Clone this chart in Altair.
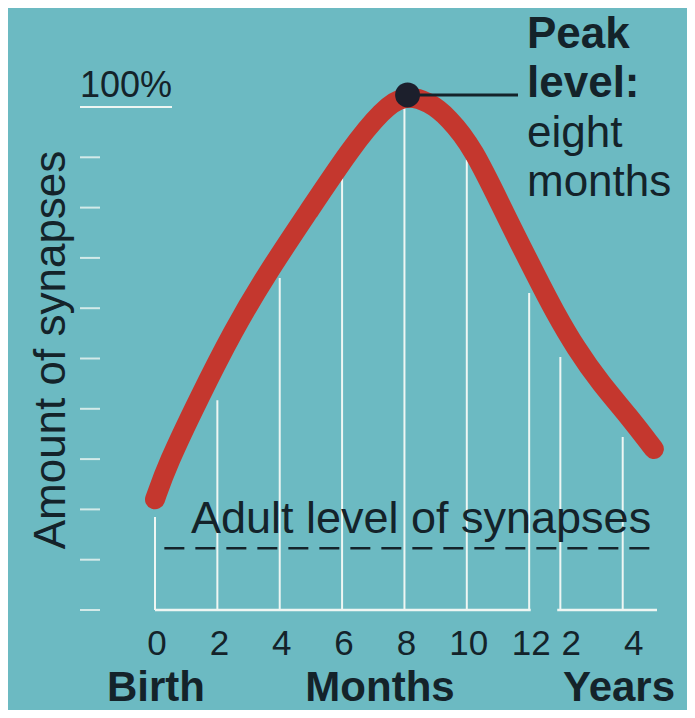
import altair as alt
import pandas as pd

# ---------------- data ----------------
# x position scale: months 0..12, then 13 = "2" years, 15 = "4" years
curve_x = [0.0, 0.4, 1.4, 2.5, 3.6, 4.9, 6.3, 7.3, 8.0, 8.8, 9.4, 10.2, 11.2, 12.3, 12.8, 13.5, 14.3, 15.2, 16.0]
curve_y = [22.0, 29.0, 42.0, 55.5, 67.0, 79.0, 92.0, 99.5, 102.5, 101.0, 98.0, 92.0, 79.0, 65.5, 59.5, 52.0, 45.0, 38.5, 32.0]

tick_pos = [0, 2, 4, 6, 8, 10, 12, 13, 15]
tick_labels = ["0", "2", "4", "6", "8", "10", "12", "2", "4"]
tick_unit = ["month", "month", "month", "month", "month", "month", "month", "year", "year"]
grid_top = [18.5, 41.7, 66.0, 86.0, 101.0, 89.5, 63.0, 50.3, 34.4]

y_ticks = [0, 10, 20, 30, 40, 50, 60, 70, 80, 90, 100]

peak_x = [8.1]
peak_y = [102.4]

adult_level = [12.3]
adult_from = [0.3]
adult_to = [16.0]

base_from = [0.0, 12.9]
base_to = [12.05, 16.1]

texts = {
    "peak1": "Peak",
    "peak2": "level:",
    "peak3": "eight",
    "peak4": "months",
    "top": "100%",
    "ytitle": "Amount of synapses",
    "adult": "Adult level of synapses",
    "birth": "Birth",
    "months": "Months",
    "years": "Years",
}

# ---------------- styles ----------------
BG = "#6cbac2"
WHITE = "#eef6f3"
DARK = "#14232a"
RED = "#c4372e"
DOT = "#1c1f2c"
FONT = "Liberation Sans"

W, H = 502, 503
xs = alt.Scale(domain=[0, 16.1], nice=False, zero=False)
ys = alt.Scale(domain=[0, 100], nice=False, zero=False)

hidden = alt.Axis(labels=False, ticks=False, domain=False, grid=False, title=None)

# vertical white grid lines rising from the baseline
grid_df = pd.DataFrame({"x": tick_pos, "y0": [0] * len(tick_pos), "top": grid_top})
grid = alt.Chart(grid_df).mark_rule(color=WHITE, strokeWidth=2).encode(
    x=alt.X("x:Q", scale=xs, axis=hidden),
    y=alt.Y("y0:Q", scale=ys, axis=hidden),
    y2="top:Q",
)

# x tick labels (months, then years set a little to the right)
lab_df = pd.DataFrame({"x": tick_pos, "t": tick_labels, "u": tick_unit})


def tick_text(unit, dx):
    return alt.Chart(lab_df).transform_filter(
        alt.datum.u == unit
    ).mark_text(
        fontSize=35, font=FONT, color=DARK, align="center", baseline="alphabetic", dx=dx
    ).encode(x=alt.X("x:Q", scale=xs, axis=None), y=alt.value(548), text="t:N")


xlabels_m = tick_text("month", 2)
xlabels_y = tick_text("year", 11)

# y tick marks on the far left
yt_df = pd.DataFrame({"v": y_ticks})
yticks = alt.Chart(yt_df).mark_rule(color=WHITE, strokeWidth=2, opacity=0.8).encode(
    y=alt.Y("v:Q", scale=ys, axis=None), x=alt.value(-75), x2=alt.value(-55)
)

# baseline with a break between months and years
base_df = pd.DataFrame({"a": base_from, "b": base_to})
baseline = alt.Chart(base_df).mark_rule(color=WHITE, strokeWidth=2.5).encode(
    x=alt.X("a:Q", scale=xs, axis=None), x2="b:Q", y=alt.datum(0)
)

top_df = pd.DataFrame({"v": [100]})
top_rule = alt.Chart(top_df).mark_rule(color=WHITE, strokeWidth=2).encode(
    y=alt.Y("v:Q", scale=ys, axis=None), x=alt.value(-75), x2=alt.value(17)
)

adult_df = pd.DataFrame({"a": adult_from, "b": adult_to, "level": adult_level})
adult = alt.Chart(adult_df).mark_rule(color=DARK, strokeWidth=2.5, strokeDash=[20, 11]).encode(
    x=alt.X("a:Q", scale=xs, axis=None), x2="b:Q", y=alt.Y("level:Q", scale=ys, axis=None)
)

curve_df = pd.DataFrame({"x": curve_x, "y": curve_y})
curve = alt.Chart(curve_df).mark_line(
    interpolate="basis", color=RED, strokeWidth=20, strokeCap="round", strokeJoin="round"
).encode(
    x=alt.X("x:Q", scale=xs, axis=None), y=alt.Y("y:Q", scale=ys, axis=None)
)

peak_df = pd.DataFrame({"px": peak_x, "py": peak_y})
connector = alt.Chart(peak_df).mark_rule(color=DARK, strokeWidth=3).encode(
    x=alt.X("px:Q", scale=xs, axis=None), x2=alt.value(363), y=alt.Y("py:Q", scale=ys, axis=None)
)
dot = alt.Chart(peak_df).mark_circle(size=620, color=DOT, opacity=1).encode(
    x=alt.X("px:Q", scale=xs, axis=None), y=alt.Y("py:Q", scale=ys, axis=None)
)


def label(key, x, y, size, bold=False, align="left", angle=0, baseline="alphabetic"):
    return alt.Chart(pd.DataFrame({"t": [texts[key]]})).mark_text(
        align=align, baseline=baseline, fontSize=size, font=FONT,
        fontWeight="bold" if bold else "normal", color=DARK, angle=angle,
    ).encode(text="t:N", x=alt.value(x), y=alt.value(y))


annotations = [
    label("peak1", 372, -59, 44, bold=True),
    label("peak2", 372, -10, 44, bold=True),
    label("peak3", 372, 40, 44),
    label("peak4", 372, 89, 44),
    label("top", -29, -10, 36, align="center"),
    label("ytitle", -103, 243, 44, align="center", angle=270, baseline="middle"),
    label("adult", 266, 426, 45, align="center"),
    label("birth", 1, 594, 42, bold=True, align="center"),
    label("months", 225, 594, 42, bold=True, align="center"),
    label("years", 464, 594, 42, bold=True, align="center"),
]

chart = alt.layer(
    grid, baseline, yticks, top_rule, adult, xlabels_m, xlabels_y, *annotations, curve, connector, dot
).properties(
    width=W,
    height=H,
    padding={"left": 147, "top": 99, "right": 30, "bottom": 100},
    autosize=alt.AutoSizeParams(type="none"),
    background=BG,
).configure_view(strokeWidth=0)

chart.save("out.html", embed_options={"renderer": "svg", "actions": False})
